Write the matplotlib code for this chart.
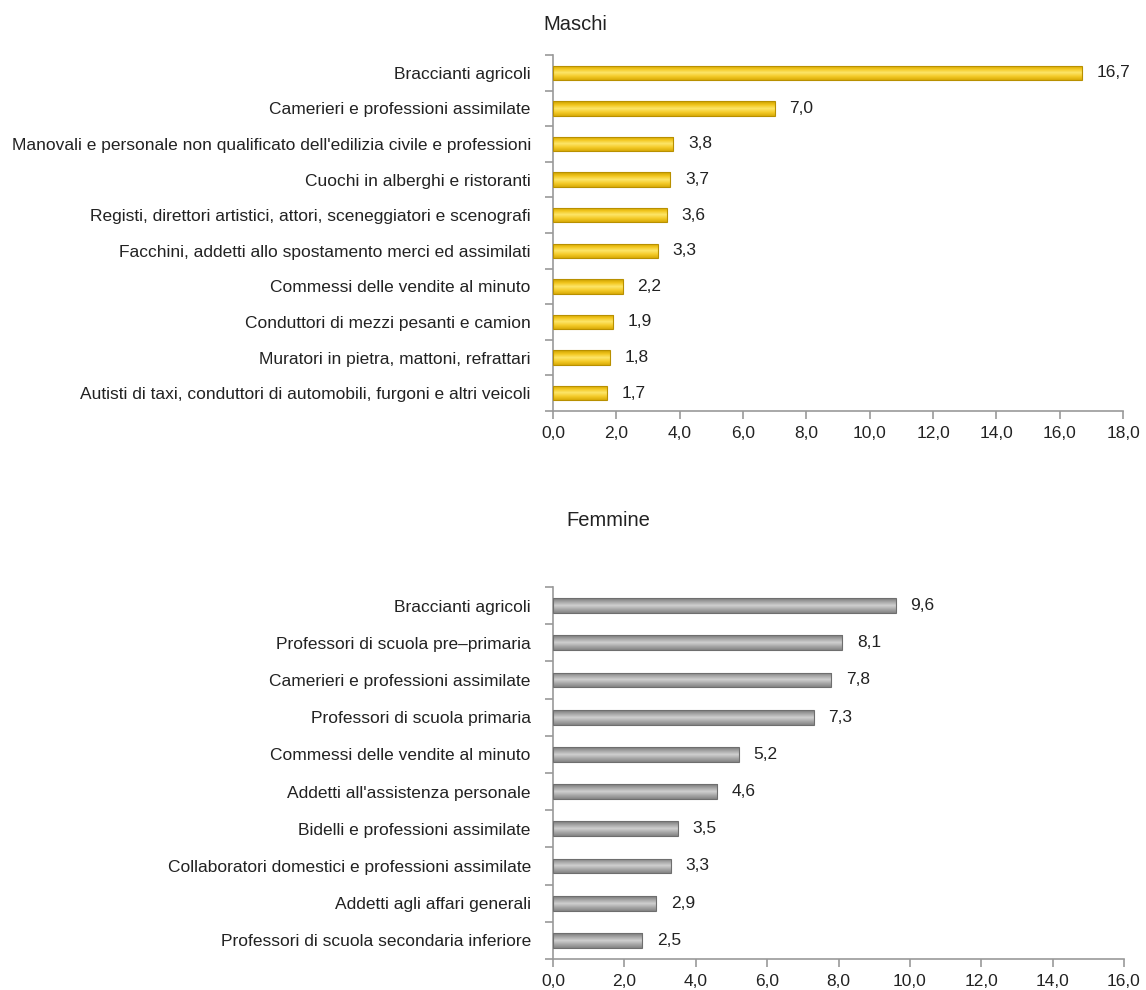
import numpy as np
import matplotlib.pyplot as plt
from matplotlib.colors import LinearSegmentedColormap

maschi_labels = [
    "Braccianti agricoli",
    "Camerieri e professioni assimilate",
    "Manovali e personale non qualificato dell'edilizia civile e professioni",
    "Cuochi in alberghi e ristoranti",
    "Registi, direttori artistici, attori, sceneggiatori e scenografi",
    "Facchini, addetti allo spostamento merci ed assimilati",
    "Commessi delle vendite al minuto",
    "Conduttori di mezzi pesanti e camion",
    "Muratori in pietra, mattoni, refrattari",
    "Autisti di taxi, conduttori di automobili, furgoni e altri veicoli",
]
maschi_values = [16.7, 7.0, 3.8, 3.7, 3.6, 3.3, 2.2, 1.9, 1.8, 1.7]

femmine_labels = [
    "Braccianti agricoli",
    "Professori di scuola pre\u2013primaria",
    "Camerieri e professioni assimilate",
    "Professori di scuola primaria",
    "Commessi delle vendite al minuto",
    "Addetti all'assistenza personale",
    "Bidelli e professioni assimilate",
    "Collaboratori domestici e professioni assimilate",
    "Addetti agli affari generali",
    "Professori di scuola secondaria inferiore",
]
femmine_values = [9.6, 8.1, 7.8, 7.3, 5.2, 4.6, 3.5, 3.3, 2.9, 2.5]

plt.rcParams['font.family'] = ['Liberation Sans Narrow', 'Liberation Sans', 'DejaVu Sans']

yellow = LinearSegmentedColormap.from_list(
    'yel', ['#c9a000', '#f2c51c', '#fde66a', '#f5cc2a', '#d9ab08'])
grey = LinearSegmentedColormap.from_list(
    'gry', ['#7a7a7a', '#a5a5a5', '#d0d0d0', '#a8a8a8', '#858585'])


def fmt(v):
    return f"{v:.1f}".replace('.', ',')


def draw_panel(ax, labels, values, cmap, edge, xmax):
    n = len(values)
    y = np.arange(n)
    h = 0.4
    bars = ax.barh(y, values, height=h, color='none', edgecolor=edge, linewidth=0.8, zorder=3)
    grad = np.linspace(0, 1, 64).reshape(-1, 1)
    for bar, v, yi in zip(bars, values, y):
        im = ax.imshow(grad, cmap=cmap, aspect='auto', zorder=2,
                       extent=[0, v, yi + h / 2, yi - h / 2])
        im.set_clip_path(bar)
        ax.text(v + xmax * 0.026, yi, fmt(v),
                va='center', ha='left', fontsize=12.5, color='#222222')
    ax.set_ylim(n - 0.5, -0.5)
    ax.set_xlim(0, xmax)
    ax.set_yticks(y)
    ax.set_yticklabels(labels, fontsize=12.5, color='#222222')
    ax.set_yticks(np.arange(n + 1) - 0.5, minor=True)
    ax.tick_params(axis='y', which='major', length=0, pad=16)
    ax.tick_params(axis='y', which='minor', length=6, color='#999999', width=1.2)
    ticks = np.arange(0, xmax + 0.1, 2)
    ax.set_xticks(ticks)
    ax.set_xticklabels([fmt(t) for t in ticks], fontsize=12.5, color='#222222')
    ax.tick_params(axis='x', length=6, color='#999999', width=1.2, pad=5)
    for s in ['top', 'right']:
        ax.spines[s].set_visible(False)
    for s in ['left', 'bottom']:
        ax.spines[s].set_color('#999999')
        ax.spines[s].set_linewidth(1.2)


fig = plt.figure(figsize=(11.46, 9.9), dpi=100)
W, H = 1146, 990
ax1 = fig.add_axes([553 / W, 1 - 411 / H, 570 / W, 356 / H])
ax2 = fig.add_axes([553 / W, 1 - 959 / H, 571 / W, 372 / H])

draw_panel(ax1, maschi_labels, maschi_values, yellow, '#b89000', 18)
draw_panel(ax2, femmine_labels, femmine_values, grey, '#6e6e6e', 16)

fig.text(575 / W, 1 - 25 / H, "Maschi", ha='center', va='center', fontsize=14.5, color='#222222')
fig.text(608 / W, 1 - 520 / H, "Femmine", ha='center', va='center', fontsize=14.5, color='#222222')

fig.savefig('out.png', dpi=100, facecolor='white')
